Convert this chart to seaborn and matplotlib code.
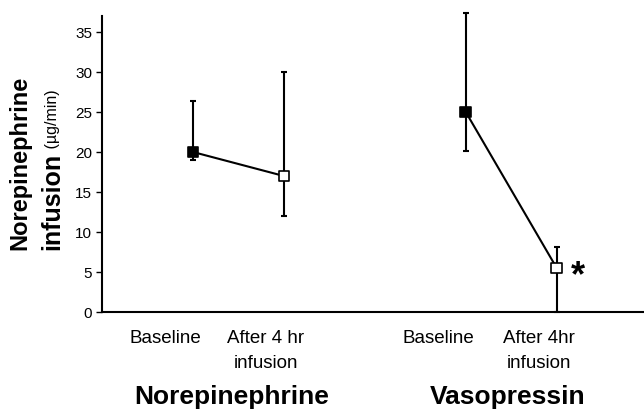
import numpy as np
import pandas as pd
import matplotlib
matplotlib.use('Agg')
import matplotlib.pyplot as plt
import matplotlib.transforms as mtransforms
import seaborn as sns

# data
drugs = ['Norepinephrine', 'Norepinephrine', 'Vasopressin', 'Vasopressin']
phases = ['Baseline', 'After', 'Baseline', 'After']
positions = [0, 1, 3, 4]
means = [20.0, 17.0, 25.0, 5.5]
upper = [26.4, 30.0, 37.4, 8.1]
lower = [19.0, 12.0, 20.1, 0.0]

tick_labels = ['Baseline', 'After 4 hr\ninfusion', 'Baseline', 'After 4hr\ninfusion']
tick_pos = [-0.3, 0.8, 2.7, 3.8]
group_labels = ['Norepinephrine', 'Vasopressin']
group_pos = [0.43, 3.46]

df = pd.DataFrame({'drug': drugs, 'phase': phases, 'pos': positions,
                   'mean': means, 'upper': upper, 'lower': lower})

sns.set_style('ticks')
plt.rcParams['font.family'] = ['Liberation Sans', 'DejaVu Sans']
plt.rcParams['text.color'] = 'black'
plt.rcParams['axes.edgecolor'] = 'black'
plt.rcParams['xtick.color'] = 'black'
plt.rcParams['ytick.color'] = 'black'

fig = plt.figure(figsize=(6.44, 4.12), dpi=100)
ax = fig.add_axes([102 / 644, 100 / 412, 542 / 644, 296 / 412])

# error bars
yerr = np.array([df['mean'] - df['lower'], df['upper'] - df['mean']])
ax.errorbar(df['pos'], df['mean'], yerr=yerr, fmt='none', ecolor='black',
            elinewidth=1.5, capsize=2.5, capthick=1.5, clip_on=False, zorder=2)

# connecting lines
sns.lineplot(data=df, x='pos', y='mean', units='drug', estimator=None,
             color='black', lw=1.5, ax=ax, zorder=3, legend=False)

# markers: baseline filled, after open
sns.scatterplot(data=df, x='pos', y='mean', hue='phase',
                palette={'Baseline': 'black', 'After': 'white'},
                marker='s', s=60, edgecolor='black', linewidth=1.2,
                ax=ax, zorder=4, legend=False, clip_on=False)

ax.text(df['pos'][3] + 0.23, df['mean'][3] - 1.1, '*', fontsize=26,
        fontweight='bold', ha='center', va='center')

ax.set_xlim(-1.0, 4.96)
ax.set_ylim(0, 37)
ax.set_yticks(range(0, 36, 5))
ax.tick_params(axis='y', labelsize=11, length=4, width=1, direction='out', pad=3)
ax.set_xticks(tick_pos)
ax.set_xticklabels(tick_labels, fontsize=13.5, linespacing=1.6)
ax.tick_params(axis='x', length=0, pad=13)
ax.set_xlabel('')
ax.set_ylabel('')

sns.despine(ax=ax)
ax.spines['left'].set_linewidth(1.5)
ax.spines['bottom'].set_linewidth(1.5)

trans = mtransforms.blended_transform_factory(ax.transData, fig.transFigure)
for label, x in zip(group_labels, group_pos):
    fig.text(x, 1 - 397 / 412, label, transform=trans, fontsize=19,
             fontweight='bold', ha='center', va='center')

# y-axis label in two lines
fig.text(20 / 644, 1 - 163 / 412, 'Norepinephrine', rotation=90, fontsize=17,
         fontweight='bold', ha='center', va='center')
t2 = fig.text(52 / 644, 1 - 250 / 412, 'infusion', rotation=90, fontsize=18,
              fontweight='bold', ha='center', va='bottom')
ax.annotate(' (µg/min)', xy=(0.5, 1), xycoords=t2, rotation=90, fontsize=11.5,
            ha='center', va='bottom', annotation_clip=False)

fig.savefig('out.png', dpi=100)
